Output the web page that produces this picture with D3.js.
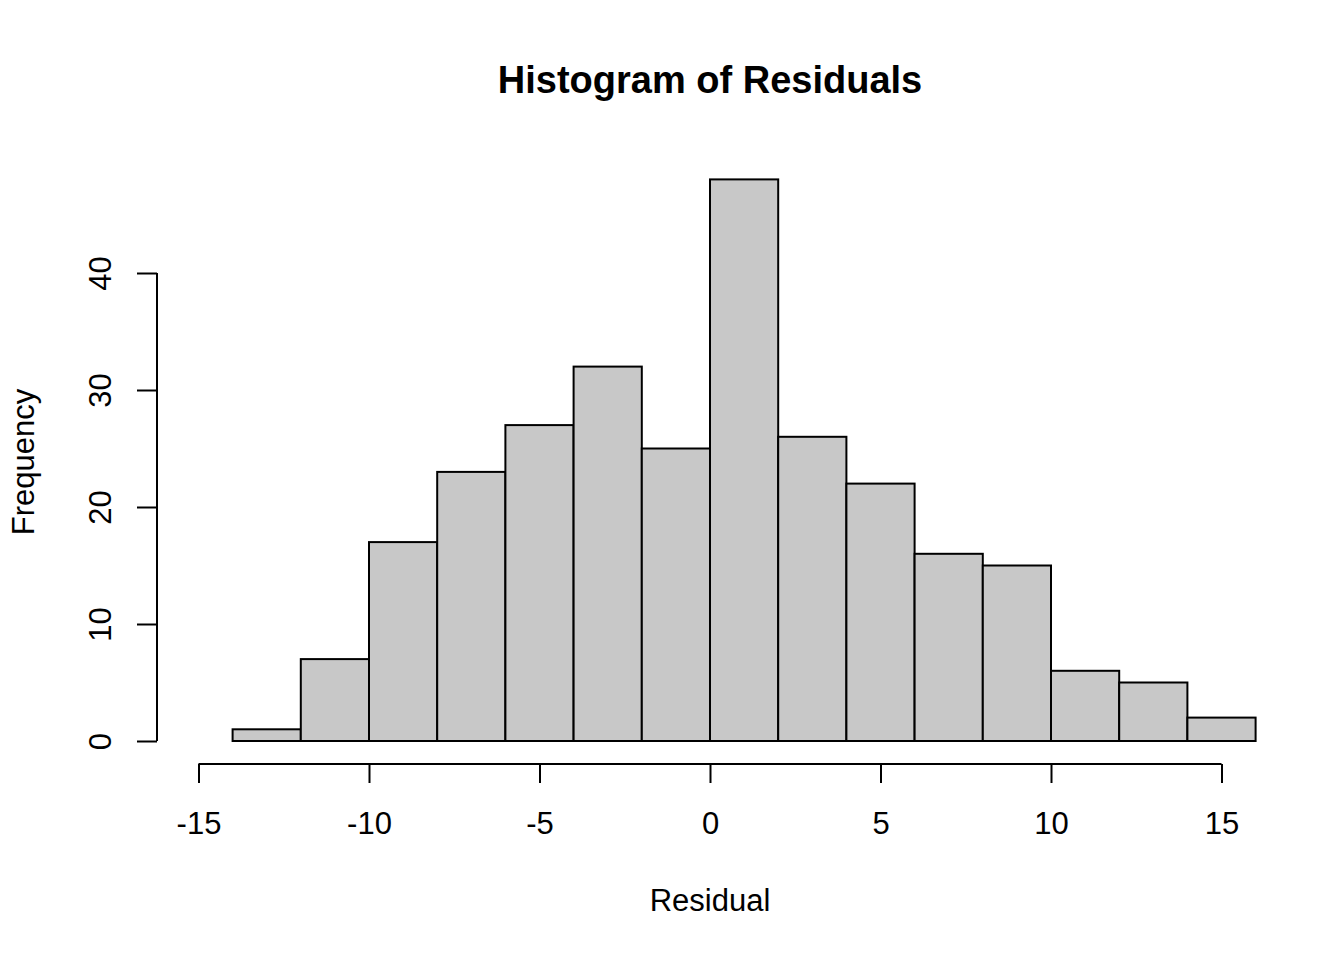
<!DOCTYPE html>
<html>
<head>
<meta charset="utf-8">
<script src="https://cdn.jsdelivr.net/npm/d3@7"></script>
<style>
  body { margin: 0; background: #fff; }
  text { font-family: "Liberation Sans", Arial, sans-serif; fill: #000; }
</style>
</head>
<body>
<div id="chart"></div>
<script>
// histogram bins (left edges, width 2) and counts
const binStarts = [-14, -12, -10, -8, -6, -4, -2, 0, 2, 4, 6, 8, 10, 12, 14];
const binWidth = 2;
const counts = [1, 7, 17, 23, 27, 32, 25, 48, 26, 22, 16, 15, 6, 5, 2];
const xTicks = [-15, -10, -5, 0, 5, 10, 15];
const yTicks = [0, 10, 20, 30, 40];

const W = 1344, H = 960;

const svg = d3.select("#chart").append("svg")
    .attr("width", W).attr("height", H);

const x = d3.scaleLinear().domain([-15, 15]).range([198.5, 1221.5]);
const y = d3.scaleLinear().domain([0, 40]).range([741, 273]);

// bars
svg.append("g").selectAll("rect")
    .data(binStarts)
    .enter().append("rect")
    .attr("x", d => x(d))
    .attr("width", d => x(d + binWidth) - x(d))
    .attr("y", (d, i) => y(counts[i]))
    .attr("height", (d, i) => y(0) - y(counts[i]))
    .attr("fill", "#c8c8c8")
    .attr("stroke", "#000")
    .attr("stroke-width", 2);

// x axis (R style, offset below the bars)
const xAxis = svg.append("g")
    .attr("transform", "translate(0,764)")
    .call(d3.axisBottom(x).tickValues(xTicks).tickFormat(d => String(d))
        .tickSize(19).tickSizeOuter(0));
xAxis.select(".domain").attr("stroke-width", 2)
    .attr("d", `M${x(-15)},0H${x(15)}`);
xAxis.selectAll(".tick line").attr("stroke-width", 2);
xAxis.selectAll(".tick text")
    .attr("font-size", 31)
    .attr("font-family", "Liberation Sans, Arial, sans-serif")
    .attr("y", 70).attr("dy", null);

// y axis
const yAxis = svg.append("g")
    .attr("transform", "translate(157,0)")
    .call(d3.axisLeft(y).tickValues(yTicks).tickFormat(d => String(d))
        .tickSize(20).tickSizeOuter(0));
yAxis.select(".domain").attr("stroke-width", 2)
    .attr("d", `M0,${y(0)}V${y(40)}`);
yAxis.selectAll(".tick line").attr("stroke-width", 2);
yAxis.selectAll(".tick text")
    .attr("font-size", 31)
    .attr("font-family", "Liberation Sans, Arial, sans-serif")
    .attr("x", null).attr("dy", null)
    .attr("text-anchor", "middle")
    .attr("transform", "translate(-46,0) rotate(-90)");

// title and labels
svg.append("text")
    .attr("x", 710).attr("y", 93)
    .attr("text-anchor", "middle")
    .attr("font-size", 38).attr("font-weight", "bold")
    .text("Histogram of Residuals");

svg.append("text")
    .attr("x", 710).attr("y", 911)
    .attr("text-anchor", "middle")
    .attr("font-size", 31)
    .text("Residual");

svg.append("text")
    .attr("transform", "translate(34,462) rotate(-90)")
    .attr("text-anchor", "middle")
    .attr("font-size", 31)
    .text("Frequency");
</script>
</body>
</html>
